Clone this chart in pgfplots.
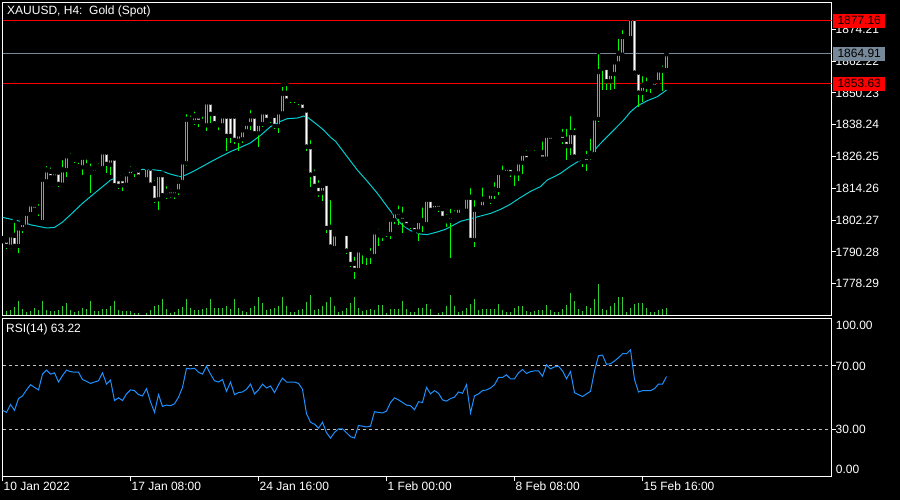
\documentclass[border=0pt]{standalone}
\usepackage{fontspec}
\setmainfont{Liberation Sans}
\usepackage{pgfplots}
\usepackage{pgfplotstable}
\pgfplotsset{compat=1.18}

\definecolor{cgreen}{RGB}{0,255,0}
\definecolor{vgreen}{RGB}{50,205,50}
\definecolor{macol}{RGB}{0,206,209}
\definecolor{rsicol}{RGB}{30,144,255}
\definecolor{slate}{RGB}{119,136,153}
\definecolor{dashgray}{RGB}{192,192,192}
\definecolor{mtred}{RGB}{255,0,0}

\pgfplotstableread{
i o h l c v
0 1794.5 1795.5 1793.8 1795.0 16
1 1794.75 1796.26 1791.23 1792.74 14
2 1792.49 1797.77 1791.23 1796.64 18
3 1796.51 1802.04 1791.99 1792.74 26
4 1792.74 1800.03 1789.97 1799.28 42
5 1799.15 1801.79 1797.51 1801.29 20
6 1800.03 1805.81 1799.53 1804.81 12
7 1804.81 1808.83 1803.80 1808.33 14
8 1808.20 1809.83 1805.81 1806.44 24
9 1806.69 1809.08 1803.80 1805.43 18
10 1801.79 1817.80 1801.29 1817.63 44
11 1817.12 1823.41 1816.87 1821.15 18
12 1820.64 1822.91 1818.38 1818.63 14
13 1818.63 1821.40 1817.88 1820.39 14
14 1820.39 1821.40 1814.61 1816.12 18
15 1815.87 1825.67 1815.62 1821.15 28
16 1821.40 1826.93 1818.63 1826.43 38
17 1825.67 1828.19 1825.17 1826.17 18
18 1826.17 1827.43 1823.66 1825.17 12
19 1826.17 1827.43 1823.41 1824.92 14
20 1822.40 1826.68 1819.13 1825.92 24
21 1822.66 1825.92 1821.15 1821.65 20
22 1821.65 1824.42 1812.35 1820.39 42
23 1820.39 1822.91 1819.13 1821.90 14
24 1821.40 1824.42 1820.39 1822.40 14
25 1822.15 1828.19 1821.90 1827.93 20
26 1827.93 1828.94 1820.14 1823.66 20
27 1823.41 1826.93 1819.39 1825.67 28
28 1825.67 1826.42 1814.86 1815.61 42
29 1817.87 1818.63 1814.10 1815.36 18
30 1817.87 1818.88 1813.10 1815.61 14
31 1815.86 1820.13 1815.36 1819.63 14
32 1819.38 1823.40 1818.63 1821.39 14
33 1820.64 1822.15 1818.63 1821.64 8
34 1821.14 1821.64 1817.62 1818.88 8
35 1818.63 1819.88 1817.62 1818.88 0
36 1817.87 1822.40 1817.37 1822.15 8
37 1821.90 1822.65 1814.86 1815.86 18
38 1816.11 1818.12 1808.82 1810.08 30
39 1810.33 1819.88 1806.06 1819.38 32
40 1819.38 1819.88 1811.09 1811.84 48
41 1811.59 1815.86 1810.33 1813.10 20
42 1813.60 1814.86 1810.58 1811.84 8
43 1811.84 1814.60 1810.33 1813.60 12
44 1813.35 1817.87 1811.84 1816.87 20
45 1816.87 1825.42 1816.61 1824.16 26
46 1823.91 1843.01 1822.65 1840.25 50
47 1839.74 1842.51 1838.99 1840.25 22
48 1839.49 1844.02 1837.99 1841.50 18
49 1841.50 1842.51 1837.48 1839.49 18
50 1838.24 1842.01 1837.48 1839.49 20
51 1838.24 1848.04 1835.97 1846.78 22
52 1846.78 1848.29 1838.74 1842.51 50
53 1842.51 1842.76 1837.99 1838.99 24
54 1839.24 1841.00 1836.23 1838.24 24
55 1838.24 1842.51 1837.48 1841.50 24
56 1841.50 1843.01 1828.43 1834.21 30
57 1841.50 1842.26 1831.20 1834.21 20
58 1841.50 1843.26 1830.95 1832.71 48
59 1832.45 1835.47 1828.43 1834.72 24
60 1832.96 1837.23 1831.45 1836.23 14
61 1835.97 1840.00 1834.97 1838.74 12
62 1838.74 1844.52 1836.23 1841.50 24
63 1841.50 1843.26 1834.47 1835.22 30
64 1835.22 1840.25 1829.69 1838.74 54
65 1838.74 1844.52 1837.48 1843.01 38
66 1843.01 1843.52 1840.00 1840.25 18
67 1841.75 1842.76 1838.99 1840.25 20
68 1841.75 1843.01 1836.73 1837.99 22
69 1837.99 1843.26 1834.97 1843.01 30
70 1842.76 1853.32 1842.51 1850.05 54
71 1850.05 1853.57 1847.03 1847.54 30
72 1847.80 1850.05 1846.53 1848.29 10
73 1848.29 1849.55 1846.53 1847.79 10
74 1847.79 1849.05 1845.53 1847.03 18
75 1846.78 1848.29 1843.52 1844.02 20
76 1843.77 1844.27 1828.18 1830.19 40
77 1829.94 1833.21 1814.60 1819.63 62
78 1819.88 1822.15 1814.60 1815.36 18
79 1815.36 1818.12 1811.09 1812.59 20
80 1812.84 1816.87 1809.33 1815.36 30
81 1816.11 1816.87 1797.51 1799.52 40
82 1799.52 1810.58 1791.47 1792.48 54
83 1791.99 1797.52 1791.23 1797.02 28
84 1798.52 1799.53 1796.51 1797.52 12
85 1798.52 1799.03 1796.51 1797.27 14
86 1797.27 1797.77 1789.47 1790.98 24
87 1791.23 1792.49 1784.45 1785.95 38
88 1785.95 1789.22 1779.92 1783.69 56
89 1783.69 1791.48 1783.44 1790.98 24
90 1789.97 1790.98 1785.70 1790.48 14
91 1789.72 1790.23 1785.20 1788.97 18
92 1788.97 1792.49 1785.70 1789.72 20
93 1788.97 1798.27 1787.97 1797.77 18
94 1797.77 1799.78 1792.49 1796.76 32
95 1796.51 1798.52 1794.50 1796.76 32
96 1797.27 1799.53 1796.01 1797.77 8
97 1797.27 1803.55 1795.26 1802.55 20
98 1802.55 1806.07 1800.79 1805.31 20
99 1805.31 1808.58 1800.28 1803.80 20
100 1804.06 1808.08 1797.27 1802.30 42
101 1802.55 1803.05 1799.78 1800.54 20
102 1800.28 1801.54 1798.78 1800.79 10
103 1800.28 1801.29 1797.27 1798.27 12
104 1798.27 1802.55 1794.25 1802.04 22
105 1802.04 1807.83 1797.77 1801.04 22
106 1801.04 1810.84 1800.54 1810.09 34
107 1810.09 1810.59 1805.56 1806.32 20
108 1806.57 1808.83 1805.56 1808.58 2
109 1808.58 1809.08 1805.31 1806.82 8
110 1806.57 1806.82 1802.30 1803.30 12
111 1803.29 1805.30 1799.77 1802.04 28
112 1802.29 1807.32 1787.96 1803.80 60
113 1803.29 1806.81 1802.29 1804.55 30
114 1804.55 1807.82 1804.05 1807.07 12
115 1807.07 1807.82 1805.56 1806.06 14
116 1806.06 1811.59 1805.30 1810.84 24
117 1810.84 1815.11 1794.50 1795.00 34
118 1795.00 1810.59 1792.23 1806.31 50
119 1806.06 1808.32 1805.05 1807.32 16
120 1807.32 1815.36 1806.81 1810.08 20
121 1809.83 1811.09 1809.08 1810.33 20
122 1809.83 1814.10 1808.32 1812.35 20
123 1812.35 1817.37 1810.08 1813.85 20
124 1813.85 1820.39 1811.59 1820.14 34
125 1819.89 1823.66 1819.38 1820.14 16
126 1820.39 1822.40 1820.14 1822.15 10
127 1822.15 1823.41 1818.63 1820.14 12
128 1820.14 1822.40 1815.11 1820.64 24
129 1820.14 1824.92 1817.12 1824.16 30
130 1824.16 1827.93 1819.64 1827.43 30
131 1827.43 1829.44 1825.17 1825.42 14
132 1826.67 1826.93 1824.92 1825.92 10
133 1826.42 1829.44 1825.92 1827.43 14
134 1827.43 1828.43 1826.67 1827.93 18
135 1827.68 1832.71 1825.42 1825.67 18
136 1825.67 1835.73 1824.66 1834.22 32
137 1834.22 1835.73 1831.20 1832.46 18
138 1834.08 1834.96 1831.94 1833.07 10
139 1833.70 1835.21 1833.20 1834.58 10
140 1834.58 1837.48 1830.94 1832.70 20
141 1832.70 1837.48 1824.90 1830.43 32
142 1830.43 1842.25 1826.66 1835.21 68
143 1835.21 1837.73 1825.41 1826.41 42
144 1826.41 1827.67 1824.40 1825.41 20
145 1824.40 1827.17 1822.39 1825.41 14
146 1826.16 1829.18 1820.63 1824.40 30
147 1826.16 1833.70 1824.90 1827.42 24
148 1827.42 1841.25 1826.66 1840.74 48
149 1840.62 1865.63 1839.36 1858.21 93
150 1859.60 1861.86 1851.30 1860.35 20
151 1859.85 1861.36 1851.30 1854.82 18
152 1854.82 1859.09 1851.30 1857.59 30
153 1857.59 1863.37 1851.55 1861.86 38
154 1861.61 1871.41 1861.36 1865.13 54
155 1864.88 1874.68 1864.63 1871.41 56
156 1871.66 1872.92 1870.41 1870.91 12
157 1871.16 1879.96 1870.91 1878.33 24
158 1878.33 1879.96 1857.84 1858.09 34
159 1858.09 1858.59 1844.77 1850.55 36
160 1850.55 1857.33 1846.78 1853.06 38
161 1852.81 1856.83 1850.55 1853.56 24
162 1853.81 1855.07 1850.30 1852.81 10
163 1854.57 1855.07 1851.55 1852.81 10
164 1854.57 1859.35 1853.81 1858.84 18
165 1858.84 1861.36 1851.05 1859.09 20
166 1859.09 1866.39 1858.59 1864.91 24
}\candles

\pgfplotstableread{
i r
0 41.85
1 40.6
2 45.6
3 41.85
4 49.35
5 51.0
6 54.8
7 58.1
8 56.4
9 54.8
10 64.8
11 67.3
12 64.8
13 65.6
14 59.8
15 63.9
16 67.3
17 66.4
18 66.0
19 66.0
20 61.4
21 60.2
22 58.9
23 59.8
24 60.6
25 65.6
26 58.5
27 61.0
28 48.1
29 49.8
30 48.1
31 52.3
32 54.8
33 54.35
34 51.85
35 51.0
36 55.6
37 47.3
38 40.6
39 51.85
40 44.35
41 45.2
42 44.8
43 46.0
44 50.2
45 56.4
46 68.5
47 68.1
48 68.5
49 66.0
50 64.8
51 69.8
52 64.8
53 60.6
54 59.8
55 61.4
56 53.9
57 59.8
58 51.85
59 53.1
60 53.5
61 55.2
62 58.5
63 52.3
64 54.8
65 58.5
66 56.0
67 57.3
68 53.1
69 58.1
70 62.3
71 59.8
72 59.8
73 59.8
74 58.9
75 55.2
76 39.8
77 34.35
78 33.1
79 30.6
80 34.35
81 27.7
82 24.35
83 27.9
84 30.2
85 30.2
86 27.7
87 25.2
88 24.35
89 32.3
90 31.85
91 31.4
92 31.85
93 41.0
94 40.6
95 40.2
96 41.4
97 46.85
98 49.8
99 48.5
100 46.85
101 45.2
102 44.8
103 42.3
104 47.3
105 46.85
106 56.4
107 52.3
108 54.35
109 52.7
110 48.5
111 47.7
112 49.35
113 50.2
114 53.5
115 52.7
116 58.1
117 40.2
118 51.0
119 52.3
120 54.35
121 54.8
122 56.0
123 58.1
124 62.7
125 62.7
126 64.35
127 61.85
128 61.85
129 65.6
130 67.7
131 65.2
132 66.4
133 66.85
134 66.85
135 63.5
136 70.6
137 68.1
138 69.35
139 69.8
140 66.85
141 61.85
142 66.4
143 53.1
144 51.85
145 50.6
146 52.3
147 53.9
148 66.85
149 76.4
150 76.85
151 71.0
152 71.4
153 73.1
154 75.2
155 77.7
156 77.7
157 80.2
158 61.4
159 53.5
160 54.35
161 54.35
162 54.35
163 55.6
164 58.5
165 58.5
166 63.22
}\rsi

\begin{document}
\begin{tikzpicture}[font=\fontsize{12bp}{14bp}\selectfont]
\fill[black] (0bp,0bp) rectangle (900bp,-500bp);
\pgfplotsset{
  mt/.style={at={(2.5bp,-2.5bp)}, anchor=north west, scale only axis,
    width=829bp, height=313bp, xmin=0, xmax=207.25},
  mtaxis/.style={axis line style={white, line width=1bp},
    tick align=outside, major tick length=4bp,
    every tick/.style={white, line width=1bp},
    tick label style={text=white, font=\fontsize{12bp}{14bp}\selectfont}},
}
% volume
\begin{axis}[mt, ymin=0, ymax=939, hide axis]
\addplot[ycomb, vgreen, line width=1bp, mark=none] table[x=i, y=v] {\candles};
\end{axis}
% price
\begin{axis}[mt, mtaxis, ymin=1766.30, ymax=1884.31,
  xtick=\empty,
  ytick={1778.29,1790.28,1802.27,1814.26,1826.25,1838.24,1850.23,1862.22,1874.21},
  yticklabels={1778.29,1790.28,1802.27,1814.26,1826.25,1838.24,1850.23,1862.22,1874.21},
  ytick pos=right, yticklabel pos=right,
  yticklabel style={anchor=west, inner sep=0pt, xshift=0bp},
]
\addplot[draw=mtred, line width=1.4bp, mark=none] coordinates {(0,1877.52) (207.25,1877.52)};
\addplot[draw=slate, line width=1.2bp, mark=none] coordinates {(0,1865.08) (207.25,1865.08)};
\addplot[draw=mtred, line width=1.4bp, mark=none] coordinates {(0,1853.77) (207.25,1853.77)};
\addplot[macol, line width=1bp] coordinates {
(0,1803.3) (4.5,1801.8) (7,1800.5) (11,1799.3) (13,1799.5) (15,1801.5) (17,1804.3)
(20,1808.6) (23,1812.4) (26,1816.1) (27,1817.37) (29,1818.6) (32,1820.4) (35,1821.4)
(37,1821.4) (39.5,1820.9) (42,1819.6) (44.5,1818.6) (45.5,1819.1) (47,1820.1)
(49.5,1822.1) (52,1824.2) (54.5,1826.2) (57,1828.1) (59.5,1829.7) (62,1831.4)
(64.5,1834.2) (67,1837.5) (69.5,1839.5) (71.2,1840.5) (73.7,1840.75) (75.3,1841.5)
(76.3,1841.0) (78.7,1838.2) (80.3,1836.2) (82,1833.5) (83.25,1832.0) (88.7,1821.15)
(91.2,1816.9) (93.7,1812.4) (96.2,1807.3) (98.7,1802.3) (100.3,1800.0) (102,1798.3)
(104.5,1797.0) (106.2,1796.8) (108.7,1797.8) (110.75,1798.8) (112,1799.8)
(114.5,1801.8) (117,1802.8) (119.5,1803.8) (122,1804.8) (124.5,1806.3) (127,1808.3)
(129.5,1810.8) (132,1813.1) (134.5,1814.9) (136.2,1817.4) (138.25,1818.9)
(139.5,1819.9) (142,1822.6) (144.5,1824.9) (147,1826.8) (148.7,1829.9) (150.3,1832.4)
(152.8,1836.2) (155.3,1840.0) (157,1843.1) (158.7,1845.3) (161.2,1847.3)
(163.7,1848.8) (166,1851.3)};
% wicks
\addplot[only marks, mark=none, error bars/.cd, y dir=minus, y explicit, error mark=none,
  error bar style={line width=1bp, cgreen}]
  table[x=i, y=h, y error minus expr={\thisrow{h}-\thisrow{l}}] {\candles};
% body outline
\addplot[only marks, mark=none, error bars/.cd, y dir=minus, y explicit, error mark=none,
  error bar style={line width=3bp, cgreen}]
  table[x=i, y expr={max(\thisrow{o},\thisrow{c})+0.19},
        y error minus expr={abs(\thisrow{c}-\thisrow{o})+0.38}] {\candles};
% bull fill (black)
\addplot[only marks, mark=none, error bars/.cd, y dir=minus, y explicit, error mark=none,
  error bar style={line width=1bp, black}]
  table[x=i, y expr={\thisrow{c}-0.19},
        y error minus expr={max(\thisrow{c}-\thisrow{o}-0.38,0)}] {\candles};
% bear fill (white)
\addplot[only marks, mark=none, error bars/.cd, y dir=minus, y explicit, error mark=none,
  error bar style={line width=1bp, white}]
  table[x=i, y expr={\thisrow{o}-0.19},
        y error minus expr={max(\thisrow{o}-\thisrow{c}-0.38,0)}] {\candles};
\coordinate (p1) at (axis cs:207.25,1877.52);
\coordinate (p2) at (axis cs:207.25,1865.08);
\coordinate (p3) at (axis cs:207.25,1853.77);
\end{axis}
% RSI
\begin{axis}[at={(2.5bp,-318.5bp)}, anchor=north west, scale only axis,
  width=829bp, height=158bp, xmin=0, xmax=207.25, ymin=0, ymax=100, mtaxis,
  ytick={30,70}, yticklabels={30.00,70.00},
  ytick pos=right, yticklabel pos=right,
  yticklabel style={anchor=west, inner sep=0pt, xshift=0bp},
  xtick={0,32,64,96,128,160},
  xticklabels={10 Jan 2022,17 Jan 08:00,24 Jan 16:00,1 Feb 00:00,8 Feb 08:00,15 Feb 16:00},
  xtick pos=left,
  xticklabel style={anchor=north west, inner sep=0pt, xshift=1bp, yshift=-1bp},
]
\addplot[dashgray, line width=1bp, dash pattern=on 3bp off 3bp] coordinates {(0,70) (207.25,70)};
\addplot[dashgray, line width=1bp, dash pattern=on 3bp off 3bp] coordinates {(0,30) (207.25,30)};
\addplot[rsicol, line width=1bp] table[x=i, y=r] {\rsi};
\coordinate (q1) at (axis cs:207.25,100);
\coordinate (q0) at (axis cs:207.25,0);
\end{axis}
\node[anchor=north west, text=white, inner sep=0pt] at ([xshift=4.2bp,yshift=-2bp]q1) {100.00};
\node[anchor=south west, text=white, inner sep=0pt] at ([xshift=4.2bp,yshift=3bp]q0) {0.00};
\node[anchor=west, fill=mtred, text=black, inner xsep=4.6bp, inner ysep=0pt, minimum height=14bp] at ([xshift=1.2bp]p1) {1877.16};
\node[anchor=west, fill=slate, text=black, inner xsep=4.6bp, inner ysep=0pt, minimum height=14bp] at ([xshift=1.2bp]p2) {1864.91};
\node[anchor=west, fill=mtred, text=black, inner xsep=4.6bp, inner ysep=0pt, minimum height=14bp] at ([xshift=1.2bp]p3) {1853.63};
\node[anchor=west, text=white, inner sep=0pt] at (7bp,-11.5bp) {XAUUSD, H4:\ \ Gold (Spot)};
\node[anchor=west, text=white, inner sep=0pt] at (6bp,-329bp) {RSI(14) 63.22};
\end{tikzpicture}
\end{document}
